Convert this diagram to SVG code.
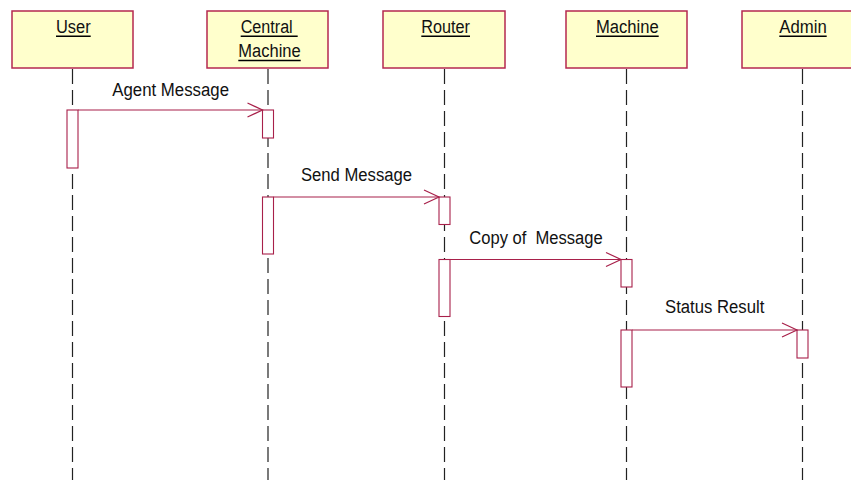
<svg xmlns="http://www.w3.org/2000/svg" width="851" height="480" viewBox="0 0 851 480">
  <style>
    .obj { fill: #FFFFCC; stroke: #B5284F; stroke-width: 1.5; }
    .life { stroke: #222; stroke-width: 1.2; stroke-dasharray: 15 6; fill: none; }
    .act { fill: #FFFFFF; stroke: #A8204A; stroke-width: 1.1; }
    .msg { stroke: #A8204A; stroke-width: 1.1; fill: none; }
    .head { stroke: #A8204A; stroke-width: 1.2; fill: none; }
    text { font-family: "Liberation Sans", Arial, sans-serif; font-size: 18px; fill: #111; }
    .ul { stroke: #000; stroke-width: 1.4; }
  </style>
  <rect width="851" height="480" fill="#FFFFFF"/>

  <!-- lifelines -->
  <g id="lifelines">
    <line class="life" x1="72.5" y1="69" x2="72.5" y2="480"/>
    <line class="life" x1="268" y1="69" x2="268" y2="480"/>
    <line class="life" x1="444.5" y1="69" x2="444.5" y2="480"/>
    <line class="life" x1="626.5" y1="69" x2="626.5" y2="480"/>
    <line class="life" x1="802.5" y1="69" x2="802.5" y2="480"/>
  </g>

  <!-- objects -->
  <g id="user">
    <rect class="obj" x="12" y="11" width="121" height="57"/>
    <text x="56" y="33.3" textLength="34.7" lengthAdjust="spacingAndGlyphs">User</text>
    <line class="ul" x1="56" y1="36.3" x2="90.7" y2="36.3"/>
    <rect class="act" x="67" y="110" width="11" height="58"/>
  </g>

  <g id="central-machine">
    <rect class="obj" x="207" y="11" width="121" height="57"/>
    <text x="240.7" y="33.3" textLength="52" lengthAdjust="spacingAndGlyphs">Central</text>
    <line class="ul" x1="240.7" y1="36.3" x2="297.7" y2="36.3"/>
    <text x="238.3" y="57.3" textLength="62.4" lengthAdjust="spacingAndGlyphs">Machine</text>
    <line class="ul" x1="238.3" y1="60.5" x2="300.7" y2="60.5"/>
    <rect class="act" x="262.5" y="110" width="11" height="28"/>
    <rect class="act" x="262.5" y="197" width="11" height="57"/>
  </g>

  <g id="router">
    <rect class="obj" x="383" y="11" width="122" height="57"/>
    <text x="421.3" y="33.3" textLength="48.7" lengthAdjust="spacingAndGlyphs">Router</text>
    <line class="ul" x1="421.3" y1="36.3" x2="470" y2="36.3"/>
    <rect class="act" x="439" y="197" width="11" height="27.5"/>
    <rect class="act" x="439" y="259.5" width="11" height="57"/>
  </g>

  <g id="machine">
    <rect class="obj" x="566" y="11" width="121" height="57"/>
    <text x="596" y="33.3" textLength="62.7" lengthAdjust="spacingAndGlyphs">Machine</text>
    <line class="ul" x1="596" y1="36.3" x2="658.7" y2="36.3"/>
    <rect class="act" x="621" y="259.5" width="11" height="27.5"/>
    <rect class="act" x="621" y="330" width="11" height="57"/>
  </g>

  <g id="admin">
    <rect class="obj" x="742" y="11" width="121" height="57"/>
    <text x="779.3" y="33.3" textLength="47.4" lengthAdjust="spacingAndGlyphs">Admin</text>
    <line class="ul" x1="779.3" y1="36.3" x2="826.7" y2="36.3"/>
    <rect class="act" x="797" y="330" width="11" height="28"/>
  </g>

  <!-- messages -->
  <g id="connectors">
    <line class="msg" x1="78" y1="110" x2="262.5" y2="110"/>
    <polyline class="head" points="247.5,103 262.5,110 247.5,117"/>
    <text x="112.3" y="95.7" textLength="116.7" lengthAdjust="spacingAndGlyphs">Agent Message</text>

    <line class="msg" x1="273.5" y1="197" x2="439" y2="197"/>
    <polyline class="head" points="424,190 439,197 424,204"/>
    <text x="301" y="180.7" textLength="111" lengthAdjust="spacingAndGlyphs">Send Message</text>

    <line class="msg" x1="450" y1="259.5" x2="621" y2="259.5"/>
    <polyline class="head" points="606,252.5 621,259.5 606,266.5"/>
    <text x="469.3" y="243.8" textLength="133.4" lengthAdjust="spacingAndGlyphs" xml:space="preserve" style="white-space:pre">Copy of  Message</text>

    <line class="msg" x1="632" y1="330" x2="797" y2="330"/>
    <polyline class="head" points="782,323 797,330 782,337"/>
    <text x="665" y="313.2" textLength="99.3" lengthAdjust="spacingAndGlyphs">Status Result</text>
  </g>
</svg>
